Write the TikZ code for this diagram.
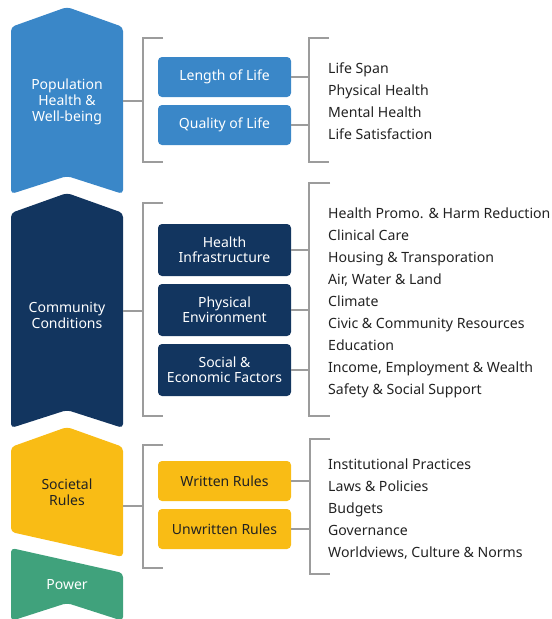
\documentclass[tikz,border=0pt]{standalone}
\usepackage{fontspec}
\setmainfont{Noto Sans}
\definecolor{popblue}{HTML}{3A87C8}
\definecolor{navy}{HTML}{12355F}
\definecolor{gold}{HTML}{F9BC15}
\definecolor{green}{HTML}{40A27C}
\definecolor{rule}{HTML}{9C9C9C}
\definecolor{ink}{HTML}{222222}
\begin{document}
\begin{tikzpicture}[x=1pt,y=-1pt,
  band/.style={rounded corners=4pt},
  bandtext/.style={font=\fontsize{14}{16}\selectfont, align=center, inner sep=0pt},
  factor/.style={rounded corners=4pt, minimum width=133pt, inner sep=0pt,
    font=\fontsize{14}{15}\selectfont, align=center},
  bracket/.style={draw=rule, line width=1.1pt},
  item/.style={anchor=west, inner sep=0pt, text height=10pt, text depth=3pt,
    font=\fontsize{14.1}{16}\selectfont, text=ink}
]
\useasboundingbox (0,0) rectangle (552,619);
\clip (0,0) rectangle (552,619);

% ---- left column of bands ----
\fill[popblue, band] (11,27) -- (67,7) -- (123,27) -- (123,194) -- (67,176) -- (11,194) -- cycle;
\fill[navy, band] (11,213) -- (67,193) -- (123,213) -- (123,428) -- (67,410) -- (11,428) -- cycle;
\fill[gold, band] (11,447) -- (67,427) -- (123,447) -- (123,557) -- (11,532) -- cycle;
\fill[green, band] (11,548) -- (123,573) -- (123,621) -- (67,603) -- (11,621) -- cycle;

\node[bandtext, text=white] (pop) at (67,102) {Population\\Health \&\\Well-being};
\node[bandtext, text=white] (com) at (67,315) {Community\\Conditions};
\node[bandtext, text=ink] (soc) at (67,492) {Societal\\Rules};
\node[bandtext, text=white] (pow) at (67,585) {Power};

\coordinate (popR) at (123,101);
\coordinate (comR) at (123,311);
\coordinate (socR) at (123,506);

% ---- factor boxes ----
\node[factor, fill=popblue, text=white, minimum height=40pt] (len) at (224.5,77) {Length of Life};
\node[factor, fill=popblue, text=white, minimum height=40pt] (qual) at (224.5,125) {Quality of Life};
\node[factor, fill=navy, text=white, minimum height=52pt] (infra) at (224.5,250) {Health\\Infrastructure};
\node[factor, fill=navy, text=white, minimum height=52pt] (env) at (224.5,310) {Physical\\Environment};
\node[factor, fill=navy, text=white, minimum height=52pt] (econ) at (224.5,370) {Social \&\\Economic Factors};
\node[factor, fill=gold, text=ink, minimum height=40pt] (wr) at (224.5,481) {Written Rules};
\node[factor, fill=gold, text=ink, minimum height=40pt] (uwr) at (224.5,529) {Unwritten Rules};

% ---- left brackets ----
\coordinate (b1) at (143,101);
\coordinate (b2) at (143,311);
\coordinate (b3) at (143,506);
\draw[bracket] (163,38) -- (143,38) -- (143,162) -- (163,162);
\draw[bracket] (163,203) -- (143,203) -- (143,416) -- (163,416);
\draw[bracket] (163,445) -- (143,445) -- (143,568) -- (163,568);
\draw[bracket] (popR) -- (b1);
\draw[bracket] (comR) -- (b2);
\draw[bracket] (socR) -- (b3);

% ---- right brackets ----
\draw[bracket] (329,38) -- (309,38) -- (309,162) -- (329,162);
\draw[bracket] (330,183) -- (309,183) -- (309,416) -- (330,416);
\draw[bracket] (330,439) -- (310,439) -- (310,574) -- (330,574);
\coordinate (r1) at (309,77);
\coordinate (r2) at (309,125);
\coordinate (r3) at (309,250);
\coordinate (r4) at (309,310);
\coordinate (r5) at (309,370);
\coordinate (r6) at (310,481);
\coordinate (r7) at (310,529);
\draw[bracket] (len.east) -- (r1);
\draw[bracket] (qual.east) -- (r2);
\draw[bracket] (infra.east) -- (r3);
\draw[bracket] (env.east) -- (r4);
\draw[bracket] (econ.east) -- (r5);
\draw[bracket] (wr.east) -- (r6);
\draw[bracket] (uwr.east) -- (r7);

% ---- outcome lists ----
\foreach \t [count=\i] in {Life Span, Physical Health, Mental Health, Life Satisfaction}
  \node[item] (a\i) at (328,70+22*\i-22) {\t};
\foreach \t [count=\i] in {Health Promo. \& Harm Reduction, Clinical Care,
    Housing \& Transporation, {Air, Water \& Land}, Climate,
    Civic \& Community Resources, Education, {Income, Employment \& Wealth},
    Safety \& Social Support}
  \node[item] (c\i) at (328,215+22*\i-22) {\t};
\foreach \t [count=\i] in {Institutional Practices, Laws \& Policies, Budgets,
    Governance, {Worldviews, Culture \& Norms}}
  \node[item] (s\i) at (328,466+22*\i-22) {\t};
\end{tikzpicture}
\end{document}
